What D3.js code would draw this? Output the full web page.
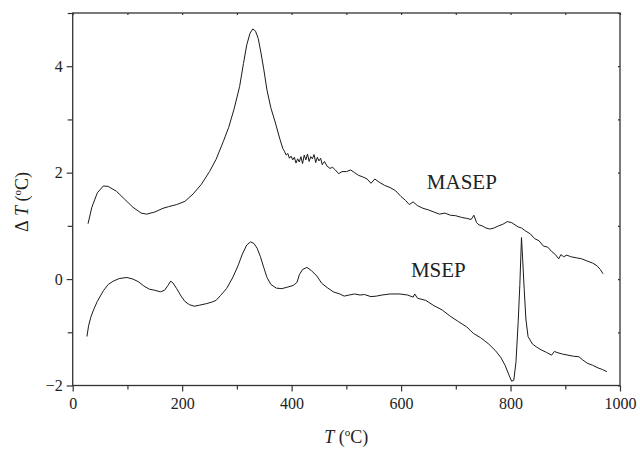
<!DOCTYPE html>
<html><head><meta charset="utf-8">
<script src="https://cdn.jsdelivr.net/npm/d3@7"></script>
<style>body{margin:0;background:#fff}svg{display:block}text{font-family:"Liberation Serif","Times New Roman",serif;fill:#222}</style>
</head><body><svg id="c" width="640" height="453"></svg>
<script>
const masepT=[28,35,45,56,65,80,95,110,125,135,150,165,175,190,205,220,235,250,262,275,285,295,305,312,318,324,329,334,339,344,349,355,362,370,378,384,387,390,393,396,399,402,405,408,411,414,417,420,423,426,429,432,435,438,441,444,447,450,453,456,460,465,470,475,480,486,492,500,508,515,522,530,538,545,552,560,570,580,590,600,608,615,622,630,640,650,660,670,680,690,700,710,720,728,733,738,742,748,755,762,770,778,786,794,802,808,814,820,828,836,844,852,860,868,875,882,888,892,897,903,910,920,930,940,950,958,964,969];
const masepV=[1.04,1.35,1.62,1.75,1.74,1.65,1.50,1.35,1.24,1.22,1.26,1.33,1.36,1.40,1.46,1.60,1.78,2.02,2.25,2.58,2.85,3.20,3.62,4.05,4.40,4.62,4.70,4.66,4.52,4.25,3.95,3.55,3.22,2.95,2.65,2.45,2.40,2.33,2.36,2.27,2.31,2.24,2.29,2.18,2.26,2.20,2.30,2.17,2.33,2.24,2.35,2.21,2.30,2.26,2.34,2.19,2.29,2.22,2.27,2.15,2.21,2.12,2.08,2.10,2.05,1.98,2.02,2.02,2.05,2.00,1.95,1.92,1.88,1.80,1.88,1.82,1.76,1.72,1.66,1.55,1.48,1.40,1.45,1.38,1.33,1.30,1.26,1.22,1.24,1.20,1.19,1.16,1.14,1.12,1.20,1.06,1.02,1.00,0.96,0.94,0.96,1.00,1.03,1.08,1.06,1.02,0.98,0.96,0.90,0.85,0.76,0.72,0.62,0.60,0.52,0.46,0.38,0.46,0.42,0.45,0.42,0.40,0.38,0.34,0.30,0.25,0.18,0.10];
const msepT=[26,29,33,38,45,56,65,74,85,99,110,120,130,140,150,160,168,174,179,183,190,198,205,213,222,232,245,255,262,270,281,292,302,310,318,325,331,337,343,349,355,362,372,382,393,403,410,414,420,428,436,446,455,465,476,488,496,505,515,525,533,545,555,565,580,598,612,622,625,630,645,660,675,690,705,720,732,745,760,772,782,790,797,802,806,810,814,817,820,822,825,828,832,840,848,856,866,875,880,885,895,905,915,925,932,940,950,960,968,976];
const msepV=[-1.08,-0.88,-0.72,-0.58,-0.42,-0.22,-0.10,-0.04,0.01,0.03,0.00,-0.05,-0.13,-0.19,-0.21,-0.24,-0.21,-0.12,-0.04,-0.07,-0.18,-0.32,-0.42,-0.48,-0.51,-0.49,-0.46,-0.43,-0.40,-0.31,-0.18,0.02,0.25,0.47,0.64,0.70,0.67,0.58,0.42,0.22,0.03,-0.10,-0.17,-0.18,-0.15,-0.12,-0.06,0.08,0.18,0.22,0.16,0.06,-0.08,-0.16,-0.24,-0.28,-0.32,-0.30,-0.28,-0.30,-0.29,-0.33,-0.32,-0.30,-0.28,-0.28,-0.30,-0.34,-0.28,-0.36,-0.40,-0.50,-0.58,-0.70,-0.80,-0.90,-1.02,-1.10,-1.22,-1.34,-1.47,-1.62,-1.80,-1.92,-1.90,-1.55,-0.80,-0.10,0.78,0.40,-0.20,-0.75,-1.08,-1.22,-1.28,-1.33,-1.38,-1.43,-1.36,-1.38,-1.41,-1.43,-1.45,-1.46,-1.52,-1.58,-1.62,-1.67,-1.70,-1.74];
const xMajor=[0,200,400,600,800,1000];
const xMinor=[100,300,500,700,900];
const yMajor=[-2,0,2,4];
const yMinor=[-1,1,3,5];
const seriesLabels=[{name:"MASEP",t:647,v:1.7},{name:"MSEP",t:618,v:0.04}];

const W=640,H=453,m={l:72.7,r:20,t:13,b:67.5};
const FONT='"Liberation Serif","Times New Roman",serif';
const svg=d3.select("#c");
const x=d3.scaleLinear().domain([0,1000]).range([m.l,W-m.r]);
const y=d3.scaleLinear().domain([-2,5]).range([H-m.b,m.t]);
const axCol="#333";
function styleAxis(g){g.attr("font-family",FONT);g.select(".domain").remove();g.selectAll("line").attr("stroke",axCol).attr("stroke-width",1.2);g.selectAll("text").attr("font-size",16).attr("fill","#222").attr("font-family",FONT);}
svg.append("g").attr("transform",`translate(0,${y(-2)})`).call(d3.axisBottom(x).tickValues(xMajor).tickSize(6).tickPadding(6).tickFormat(d3.format("d"))).call(styleAxis);
svg.append("g").attr("transform",`translate(0,${y(-2)})`).call(d3.axisBottom(x).tickValues(xMinor).tickSize(4).tickFormat("")).call(styleAxis);
svg.append("g").attr("transform",`translate(${x(0)},0)`).call(d3.axisLeft(y).tickValues(yMajor).tickSize(6).tickPadding(4).tickFormat(d3.format("d"))).call(styleAxis);
svg.append("g").attr("transform",`translate(${x(0)},0)`).call(d3.axisLeft(y).tickValues(yMinor).tickSize(5).tickFormat("")).call(styleAxis);
svg.append("g").attr("transform",`translate(0,${y(5)})`).call(d3.axisBottom(x).tickValues(xMajor.concat(xMinor)).tickSize(2).tickFormat("")).call(styleAxis);
svg.append("g").attr("transform",`translate(${x(1000)},0)`).call(d3.axisLeft(y).tickValues(yMajor.concat(yMinor)).tickSize(2).tickFormat("")).call(styleAxis);
svg.append("rect").attr("x",x(0)).attr("y",y(5)).attr("width",x(1000)-x(0)).attr("height",y(-2)-y(5)).attr("fill","none").attr("stroke",axCol).attr("stroke-width",1.3);

const line=d3.line().x(d=>x(d[0])).y(d=>y(d[1]));
[[masepT,masepV],[msepT,msepV]].forEach(([T,V])=>{
  svg.append("path").datum(T.map((t,i)=>[t,V[i]])).attr("d",line).attr("fill","none").attr("stroke","#1a1a1a").attr("stroke-width",1);
});
seriesLabels.forEach(s=>{
  svg.append("text").attr("x",x(s.t)).attr("y",y(s.v)).attr("font-size",21).attr("font-family",FONT).text(s.name);
});
const xt=svg.append("text").attr("x",(x(0)+x(1000))/2).attr("y",443).attr("text-anchor","middle").attr("font-size",18).attr("font-family",FONT);
xt.append("tspan").attr("font-style","italic").text("T");
xt.append("tspan").text(" (");
xt.append("tspan").attr("font-size",11).attr("dy",-7).text("o");
xt.append("tspan").attr("dy",7).text("C)");
const yt=svg.append("text").attr("transform","translate(28,202) rotate(-90)").attr("text-anchor","middle").attr("font-size",18).attr("font-family",FONT);
yt.append("tspan").text("Δ");
yt.append("tspan").attr("font-style","italic").text(" T");
yt.append("tspan").text(" (");
yt.append("tspan").attr("font-size",11).attr("dy",-7).text("o");
yt.append("tspan").attr("dy",7).text("C)");
</script></body></html>
